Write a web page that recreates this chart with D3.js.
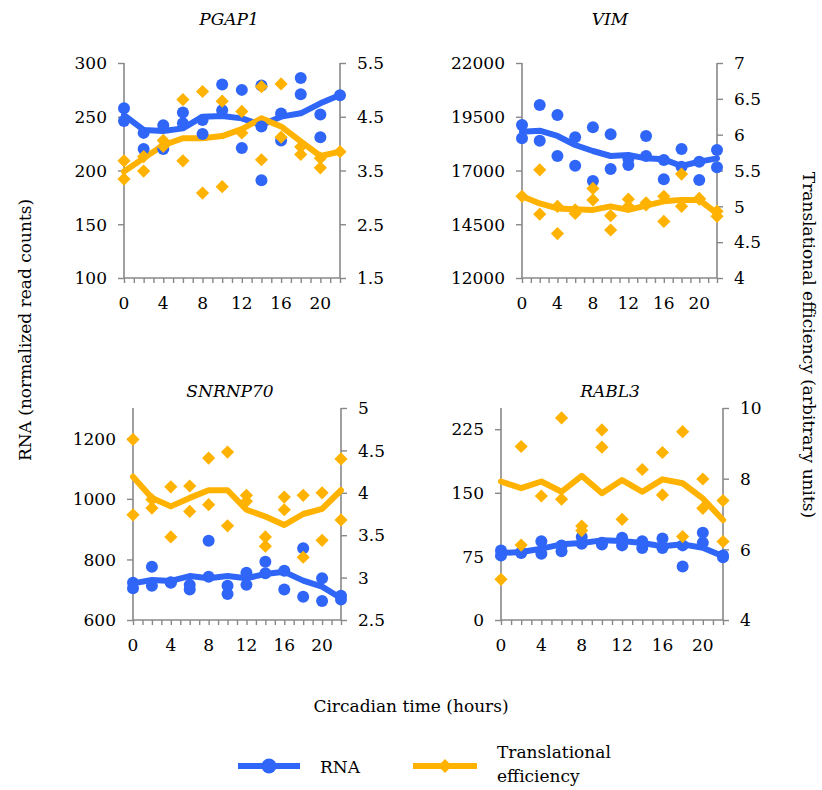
<!DOCTYPE html>
<html><head><meta charset="utf-8">
<script src="https://cdn.jsdelivr.net/npm/d3@7"></script>
<style>body{margin:0;background:#fff}svg{display:block}</style>
</head><body><svg id="c" width="822" height="790"></svg>
<script>
// ---------------- DATA ----------------
const hours = [0,2,4,6,8,10,12,14,16,18,20,22];
const xTickLabels = [0,4,8,12,16,20];
const genes = ["PGAP1","VIM","SNRNP70","RABL3"];

// PGAP1
const pgap1RnaLine = [251.6,237.7,236.7,239.2,250.1,250.7,248.5,242.3,250.1,253.2,262.5,270.2];
const pgap1TeLine = [3.48,3.73,3.97,4.10,4.10,4.14,4.27,4.47,4.32,4.04,3.77,3.85];
const pgap1RnaPts = [[0,258],[0,246],[2,235],[2,220],[4,242],[4,220],[6,254],[6,244],[8,247],[8,234],[10,280],[10,256],[12,275],[12,221],[14,279],[14,241],[14,191],[16,253],[16,228],[18,286],[18,271],[20,252],[20,231],[22,270]];
const pgap1TePts = [[0,3.68],[0,3.34],[2,3.76],[2,3.49],[4,4.06],[4,3.95],[6,4.82],[6,3.68],[8,4.97],[8,3.08],[10,4.79],[10,3.20],[12,4.60],[12,4.20],[14,5.06],[14,3.70],[16,5.11],[16,4.12],[18,3.94],[18,3.80],[20,3.73],[20,3.55],[22,3.85]];
const pgap1LeftTicks = [100,150,200,250,300];
const pgap1RightTicks = [1.5,2.5,3.5,4.5,5.5];

// VIM
const vimRnaLine = [18806,18853,18605,18186,17907,17674,17721,17566,17519,17209,17411,17566];
const vimTeLine = [5.14,5.04,4.97,4.96,4.95,5.00,4.95,5.01,5.07,5.09,5.09,4.90];
const vimRnaPts = [[0,19116],[0,18496],[2,20047],[2,18388],[4,19581],[4,17674],[6,18543],[6,17225],[8,19008],[8,16512],[10,18682],[10,17070],[12,17550],[12,17256],[14,18605],[14,17674],[16,17488],[16,16589],[18,18000],[18,17178],[20,17411],[20,16558],[22,17953],[22,17147]];
const vimTePts = [[0,5.14],[2,5.51],[2,4.89],[4,5.00],[4,4.62],[6,4.90],[6,4.95],[8,5.25],[8,5.09],[10,4.87],[10,4.67],[12,5.10],[12,5.00],[14,5.02],[14,5.05],[16,5.14],[16,4.79],[18,5.45],[18,5.00],[20,5.11],[20,5.10],[22,4.93],[22,4.86]];
const vimLeftTicks = [12000,14500,17000,19500,22000];
const vimRightTicks = [4,4.5,5,5.5,6,6.5,7];

// SNRNP70
const snrnp70RnaLine = [721,732,729,745,738,745,738,752,759,730,710,672];
const snrnp70TeLine = [4.19,3.94,3.84,3.94,4.03,4.03,3.80,3.72,3.62,3.75,3.81,4.03];
const snrnp70RnaPts = [[0,723],[0,705],[2,776],[2,713],[4,723],[4,725],[6,716],[6,701],[8,862],[8,743],[10,713],[10,686],[12,756],[12,716],[14,792],[14,754],[16,763],[16,701],[18,837],[18,677],[20,738],[20,663],[22,680],[22,668]];
const snrnp70TePts = [[0,4.63],[0,3.74],[2,3.92],[2,3.82],[4,4.07],[4,3.48],[6,4.08],[6,3.78],[8,4.41],[8,3.86],[10,4.48],[10,3.61],[12,3.97],[12,3.90],[14,3.48],[14,3.37],[16,3.95],[16,3.80],[18,3.97],[18,3.24],[20,4.00],[20,3.44],[22,4.40],[22,3.68]];
const snrnp70LeftTicks = [600,800,1000,1200];
const snrnp70RightTicks = [2.5,3,3.5,4,4.5,5];

// RABL3
const rabl3RnaLine = [79,80.2,84.1,89.2,90.7,93.9,93.1,90.7,86.9,89.2,85.3,75.1];
const rabl3TeLine = [7.92,7.73,7.92,7.63,8.08,7.59,7.96,7.63,7.98,7.87,7.44,6.83];
const rabl3RnaPts = [[0,82],[0,76],[2,79],[2,80],[4,93],[4,78],[6,81],[6,88],[8,98],[8,90],[10,89],[10,91],[12,97],[12,88],[14,93],[14,85],[16,96],[16,85],[18,88],[18,63],[20,103],[20,91],[22,76],[22,74]];
const rabl3TePts = [[0,5.15],[2,8.91],[2,6.12],[4,7.51],[6,9.72],[6,7.42],[8,6.66],[8,6.53],[10,9.38],[10,8.89],[12,6.85],[14,8.26],[16,8.74],[16,7.54],[18,9.33],[18,6.36],[20,7.99],[20,7.16],[22,7.38],[22,6.22]];
const rabl3LeftTicks = [0,75,150,225];
const rabl3RightTicks = [4,6,8,10];

// ---------------- LAYOUT ----------------
const FONT = "'DejaVu Serif', 'Liberation Serif', serif";
const FS = "17px";
const BLUE = "#3066F8", ORANGE = "#FFB200", AXIS = "#888888";
const panels = [
  {name:genes[0], box:[124,340,63,278], left:[100,300], right:[1.5,5.5], lt:pgap1LeftTicks, rt:pgap1RightTicks,
   rl:pgap1RnaLine, tl:pgap1TeLine, rp:pgap1RnaPts, tp:pgap1TePts, tx:229, ty:25},
  {name:genes[1], box:[522,717,63,278], left:[12000,22000], right:[4,7], lt:vimLeftTicks, rt:vimRightTicks,
   rl:vimRnaLine, tl:vimTeLine, rp:vimRnaPts, tp:vimTePts, tx:610, ty:25},
  {name:genes[2], box:[133,341,408,620], left:[600,1300], right:[2.5,5], lt:snrnp70LeftTicks, rt:snrnp70RightTicks,
   rl:snrnp70RnaLine, tl:snrnp70TeLine, rp:snrnp70RnaPts, tp:snrnp70TePts, tx:230, ty:397},
  {name:genes[3], box:[501,723,408,620], left:[0,250], right:[4,10], lt:rabl3LeftTicks, rt:rabl3RightTicks,
   rl:rabl3RnaLine, tl:rabl3TeLine, rp:rabl3RnaPts, tp:rabl3TePts, tx:610, ty:397}
];

const svg = d3.select("#c");
function diamondPath(h){ return `M0,${-h}L${h},0L0,${h}L${-h},0Z`; }
function txt(sel){ return sel.attr("font-family",FONT).style("font-family",FONT).style("font-size",FS).attr("fill","#000"); }

panels.forEach(p => {
  const [x0,x1,y0,y1] = p.box;
  const x = d3.scaleLinear().domain([0,22]).range([x0,x1]);
  const yl = d3.scaleLinear().domain(p.left).range([y1,y0]);
  const yr = d3.scaleLinear().domain(p.right).range([y1,y0]);
  const g = svg.append("g");

  const xa = g.append("g").attr("transform",`translate(0,${y1})`)
    .call(d3.axisBottom(x).tickValues(d3.range(0,23,1)).tickSize(5).tickFormat(""));
  const yaL = g.append("g").attr("transform",`translate(${x0},0)`)
    .call(d3.axisLeft(yl).tickValues(p.lt).tickSize(6).tickFormat(d=>String(d)));
  const yaR = g.append("g").attr("transform",`translate(${x1},0)`)
    .call(d3.axisRight(yr).tickValues(p.rt).tickSize(6).tickFormat(d=>String(d)));
  [xa,yaL,yaR].forEach(a=>{
    a.attr("font-family",FONT);
    a.select(".domain").attr("stroke",AXIS).attr("stroke-width",1.6);
    a.selectAll(".tick line").attr("stroke",AXIS).attr("stroke-width",1.4);
    txt(a.selectAll("text"));
  });
  xa.select(".domain").attr("d",`M${x0},0H${x1}`);
  yaL.select(".domain").attr("d",`M0,${y1}V${y0}`);
  yaR.select(".domain").attr("d",`M0,${y1}V${y0}`);
  yaL.selectAll(".tick text").attr("x",-17).attr("dy","0.34em");
  yaR.selectAll(".tick text").attr("x",17).attr("dy","0.34em");
  txt(g.selectAll("text.xl").data(xTickLabels).join("text").attr("class","xl")
    .attr("x",d=>x(d)).attr("y",y1+31).attr("text-anchor","middle").text(d=>d));

  const lineL = d3.line().x((d,i)=>x(hours[i])).y(d=>yl(d));
  const lineR = d3.line().x((d,i)=>x(hours[i])).y(d=>yr(d));
  g.append("path").attr("d",lineL(p.rl)).attr("fill","none").attr("stroke",BLUE).attr("stroke-width",6)
    .attr("stroke-linejoin","round").attr("stroke-linecap","round");
  g.append("path").attr("d",lineR(p.tl)).attr("fill","none").attr("stroke",ORANGE).attr("stroke-width",6)
    .attr("stroke-linejoin","round").attr("stroke-linecap","round");
  g.selectAll("circle.r").data(p.rp).join("circle").attr("class","r")
    .attr("cx",d=>x(d[0])).attr("cy",d=>yl(d[1])).attr("r",6).attr("fill",BLUE);
  g.selectAll("path.t").data(p.tp).join("path").attr("class","t")
    .attr("transform",d=>`translate(${x(d[0])},${yr(d[1])})`).attr("d",diamondPath(6.6)).attr("fill",ORANGE);

  txt(svg.append("text").attr("x",p.tx).attr("y",p.ty).attr("text-anchor","middle")
    .style("font-style","italic").text(p.name));
});

txt(svg.append("text").attr("transform","translate(31,330) rotate(-90)").attr("text-anchor","middle")
  .text("RNA (normalized read counts)"));
txt(svg.append("text").attr("transform","translate(803,345) rotate(90)").attr("text-anchor","middle")
  .text("Translational efficiency (arbitrary units)"));
txt(svg.append("text").attr("x",411).attr("y",712).attr("text-anchor","middle")
  .text("Circadian time (hours)"));

const lg = svg.append("g");
lg.append("line").attr("x1",238).attr("x2",300).attr("y1",766).attr("y2",766).attr("stroke",BLUE).attr("stroke-width",6);
lg.append("circle").attr("cx",269).attr("cy",766).attr("r",7.5).attr("fill",BLUE);
txt(lg.append("text").attr("x",320).attr("y",773).text("RNA"));
lg.append("line").attr("x1",413).attr("x2",477).attr("y1",766).attr("y2",766).attr("stroke",ORANGE).attr("stroke-width",6);
lg.append("path").attr("transform","translate(445,766)").attr("d",diamondPath(7)).attr("fill",ORANGE);
txt(lg.append("text").attr("x",497).attr("y",758).text("Translational"));
txt(lg.append("text").attr("x",497).attr("y",782).text("efficiency"));
</script></body></html>
